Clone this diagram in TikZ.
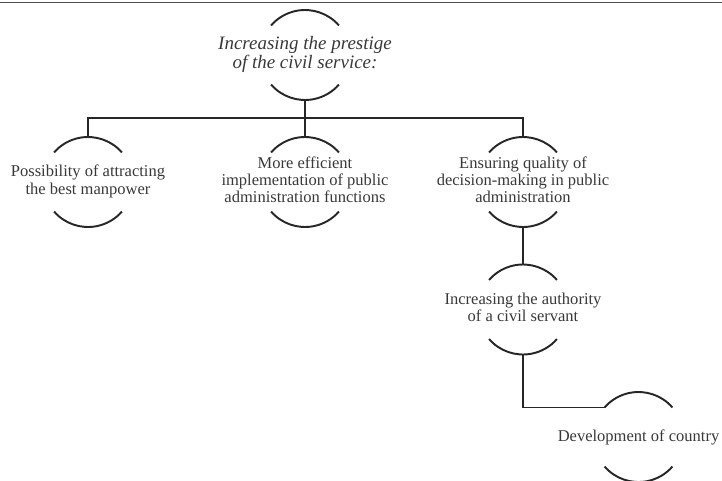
\documentclass[tikz,border=0pt]{standalone}
\usepackage{fontspec}
\setmainfont{Liberation Serif}

\newcommand{\ringarcs}[1]{%
    \draw[ring] (#1.center) ++(41:0.9) arc[start angle=41,end angle=139,radius=0.9];
    \draw[ring] (#1.center) ++(221:0.9) arc[start angle=221,end angle=319,radius=0.9];
    \path (#1.center) ++(0,0.9) coordinate (#1-top);
    \path (#1.center) ++(0,-0.9) coordinate (#1-bot);
    \path (#1.center) ++(139:0.9) coordinate (#1-left);
}

\tikzset{
    ring/.style={line width=1.1pt,black!85},
    link/.style={line width=1.1pt,black!85},
    label/.style={text=black!78,font=\fontsize{9.4}{9.8}\selectfont,inner sep=0pt}
}

\begin{document}
\begin{tikzpicture}
        \useasboundingbox (0,0) rectangle (14.44,9.6);
        \draw[line width=1pt,black!70] (0,9.55) -- (14.44,9.55);

        \node[label,font=\fontsize{10.8}{10.2}\selectfont] (prestige) at (6.10,8.50) {
            \begin{tabular}{c}
                \itshape Increasing the prestige \\
                \itshape of the civil service:
            \end{tabular}
            };
        \node[label] (manpower) at (1.76,5.96) {
            \begin{tabular}{c}
                Possibility of attracting \\
                the best manpower
            \end{tabular}
            };
        \node[label] (functions) at (6.10,5.96) {
            \begin{tabular}{c}
                More efficient \\
                implementation of public \\
                administration functions
            \end{tabular}
            };
        \node[label] (quality) at (10.46,5.96) {
            \begin{tabular}{c}
                Ensuring quality of \\
                decision-making in public \\
                administration
            \end{tabular}
            };
        \node[label] (authority) at (10.46,3.41) {
            \begin{tabular}{c}
                Increasing the authority \\
                of a civil servant
            \end{tabular}
            };
        \node[label] (country) at (12.77,0.86) {Development of country};

        \ringarcs{prestige}
        \ringarcs{manpower}
        \ringarcs{functions}
        \ringarcs{quality}
        \ringarcs{authority}
        \ringarcs{country}

        \draw[link] (prestige-bot) -- (functions-top);
        \draw[link] (manpower-top) -- ++(0,0.38) -| (quality-top);
        \draw[link] (quality-bot) -- (authority-top);
        \draw[link] (authority-bot) |- (country-left);
    \end{tikzpicture}
\end{document}
